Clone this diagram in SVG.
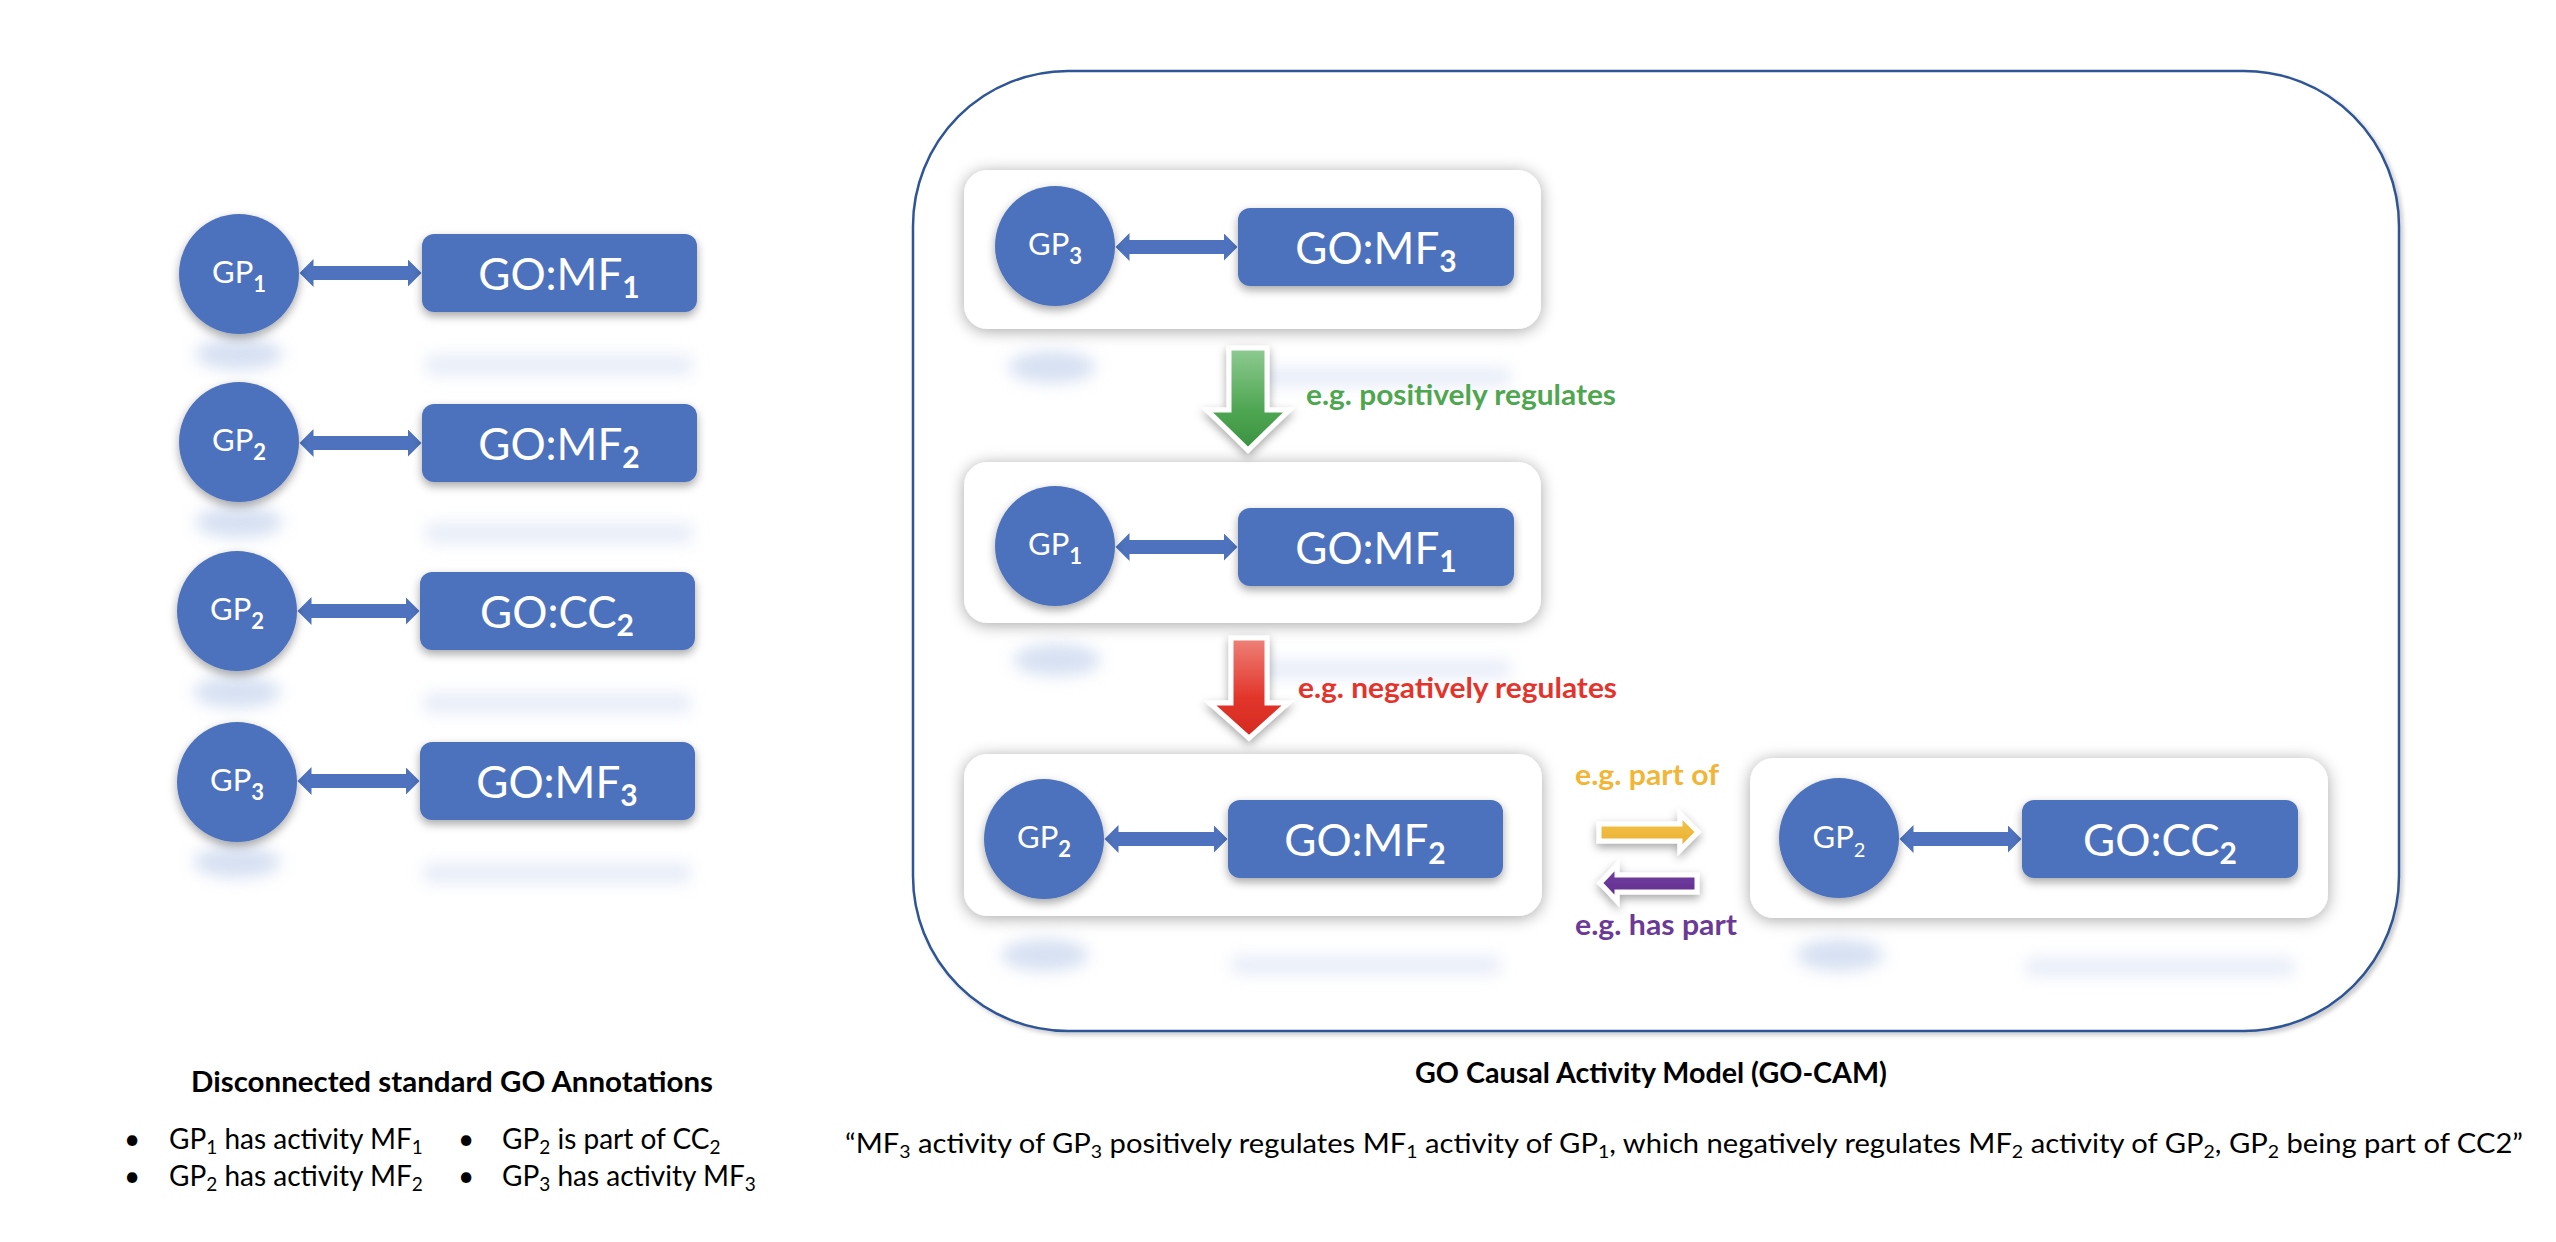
<svg xmlns="http://www.w3.org/2000/svg" width="2556" height="1242" viewBox="0 0 2556 1242">
<style>
  .gp{font-family:Lato,"Liberation Sans",sans-serif;font-size:31px;fill:#fff;text-anchor:middle}
  .gsb{font-size:22px;font-weight:bold}
  .gsr{font-size:20px}
  .go{font-family:Lato,"Liberation Sans",sans-serif;font-size:44px;fill:#fff;text-anchor:middle}
  .osb{font-size:30px;font-weight:bold}
  .node{fill:#4E72BD;filter:url(#sh)}
  .box{fill:#fff;filter:url(#boxsh)}
  .lab{font-family:Lato,"Liberation Sans",sans-serif;font-size:28px;font-weight:bold}
  .cap{font-family:Lato,"Liberation Sans",sans-serif;fill:#000}
  .refc{fill:#AFC2E6;opacity:.5;filter:url(#blur)}
  .refr{fill:#D3DDF1;opacity:.55;filter:url(#blur)}
  .dbl{stroke:#4E72BD;stroke-width:14;marker-start:url(#ah);marker-end:url(#ah)}
  .blk{stroke:#fff;stroke-width:5;stroke-linejoin:miter;filter:url(#sh)}
</style>
<defs>
  <filter id="sh" x="-30%" y="-30%" width="160%" height="170%">
    <feDropShadow dx="0" dy="4" stdDeviation="5" flood-color="#000" flood-opacity="0.35"/>
  </filter>
  <filter id="boxsh" x="-10%" y="-20%" width="120%" height="150%">
    <feDropShadow dx="0" dy="2" stdDeviation="8" flood-color="#000" flood-opacity="0.35"/>
  </filter>
  <filter id="outsh" x="-5%" y="-5%" width="110%" height="110%">
    <feDropShadow dx="3" dy="3" stdDeviation="2" flood-color="#000" flood-opacity="0.2"/>
  </filter>
  <filter id="blur" x="-50%" y="-100%" width="200%" height="300%">
    <feGaussianBlur stdDeviation="8"/>
  </filter>
  <marker id="ah" markerUnits="userSpaceOnUse" markerWidth="16" markerHeight="30" viewBox="0 -15 16 30" refX="0.5" refY="0" orient="auto-start-reverse">
    <path d="M0,-14 L14,0 L0,14 Z" fill="#4E72BD"/>
  </marker>
  <linearGradient id="gG" x1="0" y1="0" x2="0" y2="1">
    <stop offset="0" stop-color="#8FCB92"/><stop offset="0.6" stop-color="#4FA653"/><stop offset="1" stop-color="#3B9140"/>
  </linearGradient>
  <linearGradient id="gR" x1="0" y1="0" x2="0" y2="1">
    <stop offset="0" stop-color="#EE8279"/><stop offset="0.6" stop-color="#E2352B"/><stop offset="1" stop-color="#D42A20"/>
  </linearGradient>
  <linearGradient id="gY" x1="0" y1="0" x2="0" y2="1">
    <stop offset="0" stop-color="#F5C54E"/><stop offset="1" stop-color="#E8AE2E"/>
  </linearGradient>
  <linearGradient id="gP" x1="0" y1="0" x2="0" y2="1">
    <stop offset="0" stop-color="#7440A3"/><stop offset="1" stop-color="#5E2E8C"/>
  </linearGradient>
</defs>
<rect width="2556" height="1242" fill="#fff"/>

<!-- GO-CAM container -->
<g id="gocam-frame">
  <rect x="913" y="71" width="1486" height="960" rx="155" ry="155" fill="#fff" stroke="#2F5496" stroke-width="2.5" filter="url(#outsh)"/>
</g>

<!-- reflections -->
<g id="reflections">
  <ellipse class="refc" cx="239" cy="354" rx="44" ry="16"/><rect class="refr" x="426" y="355" width="266" height="20"/>
  <ellipse class="refc" cx="239" cy="522" rx="44" ry="16"/><rect class="refr" x="426" y="523" width="266" height="20"/>
  <ellipse class="refc" cx="237" cy="692" rx="44" ry="16"/><rect class="refr" x="424" y="693" width="266" height="20"/>
  <ellipse class="refc" cx="237" cy="862" rx="44" ry="16"/><rect class="refr" x="424" y="863" width="266" height="20"/>
  <ellipse class="refc" cx="1052" cy="367" rx="44" ry="16"/><rect class="refr" x="1242" y="368" width="268" height="18"/>
  <ellipse class="refc" cx="1057" cy="660" rx="44" ry="16"/><rect class="refr" x="1242" y="660" width="268" height="18"/>
  <ellipse class="refc" cx="1045" cy="955" rx="44" ry="16"/><rect class="refr" x="1232" y="956" width="268" height="18"/>
  <ellipse class="refc" cx="1840" cy="955" rx="44" ry="16"/><rect class="refr" x="2026" y="958" width="268" height="18"/>
</g>

<!-- white activity boxes -->
<g id="box-a"><rect class="box" x="964" y="170" width="577" height="159" rx="24"/></g>
<g id="box-b"><rect class="box" x="964" y="462" width="577" height="161" rx="24"/></g>
<g id="box-c"><rect class="box" x="964" y="754" width="578" height="162" rx="24"/></g>
<g id="box-d"><rect class="box" x="1750" y="758" width="578" height="160" rx="24"/></g>

<!-- connectors -->
<g id="connectors">
  <line class="dbl" x1="313" y1="273" x2="408" y2="273"/>
  <line class="dbl" x1="313" y1="443" x2="408" y2="443"/>
  <line class="dbl" x1="311" y1="611" x2="406" y2="611"/>
  <line class="dbl" x1="311" y1="781" x2="406" y2="781"/>
  <line class="dbl" x1="1129" y1="247" x2="1224" y2="247"/>
  <line class="dbl" x1="1129" y1="547" x2="1224" y2="547"/>
  <line class="dbl" x1="1118" y1="839" x2="1214" y2="839"/>
  <line class="dbl" x1="1913" y1="839" x2="2008" y2="839"/>
  <path class="blk" fill="url(#gG)" d="M1229,348 H1267 V410 H1289 L1248,450 L1207,410 H1229 Z"/>
  <path class="blk" fill="url(#gR)" d="M1231,638 H1267 V703 H1288 L1249,738 L1210,703 H1231 Z"/>
  <path class="blk" fill="url(#gY)" d="M1599,824 H1680 V814 L1698,832 L1680,850 V841 H1599 Z"/>
  <path class="blk" fill="url(#gP)" d="M1600,883 L1617,865 V875 H1697 V892 H1617 V901 Z"/>
  <text class="lab" x="1306" y="405" fill="#4EA64F" textLength="310" lengthAdjust="spacingAndGlyphs">e.g. positively regulates</text>
  <text class="lab" x="1298" y="698" fill="#E5322B" textLength="319" lengthAdjust="spacingAndGlyphs">e.g. negatively regulates</text>
  <text class="lab" x="1575" y="785" fill="#F2B535" textLength="144" lengthAdjust="spacingAndGlyphs">e.g. part of</text>
  <text class="lab" x="1575" y="935" fill="#6B3A96" textLength="162" lengthAdjust="spacingAndGlyphs">e.g. has part</text>
</g>

<!-- left column nodes -->
<g id="l-gp1"><circle class="node" cx="239" cy="274" r="60"/><text class="gp" x="239" y="283">GP<tspan class="gsb" dy="9">1</tspan></text></g>
<g id="l-mf1"><rect class="node" x="422" y="234" width="275" height="78" rx="12"/><text class="go" x="559" y="290">GO:MF<tspan class="osb" dy="8">1</tspan></text></g>
<g id="l-gp2a"><circle class="node" cx="239" cy="442" r="60"/><text class="gp" x="239" y="451">GP<tspan class="gsb" dy="9">2</tspan></text></g>
<g id="l-mf2"><rect class="node" x="422" y="404" width="275" height="78" rx="12"/><text class="go" x="559" y="460">GO:MF<tspan class="osb" dy="8">2</tspan></text></g>
<g id="l-gp2b"><circle class="node" cx="237" cy="611" r="60"/><text class="gp" x="237" y="620">GP<tspan class="gsb" dy="9">2</tspan></text></g>
<g id="l-cc2"><rect class="node" x="420" y="572" width="275" height="78" rx="12"/><text class="go" x="557" y="628">GO:CC<tspan class="osb" dy="8">2</tspan></text></g>
<g id="l-gp3"><circle class="node" cx="237" cy="782" r="60"/><text class="gp" x="237" y="791">GP<tspan class="gsb" dy="9">3</tspan></text></g>
<g id="l-mf3"><rect class="node" x="420" y="742" width="275" height="78" rx="12"/><text class="go" x="557" y="798">GO:MF<tspan class="osb" dy="8">3</tspan></text></g>

<!-- GO-CAM nodes -->
<g id="c-gp3"><circle class="node" cx="1055" cy="246" r="60"/><text class="gp" x="1055" y="255">GP<tspan class="gsb" dy="9">3</tspan></text></g>
<g id="c-mf3"><rect class="node" x="1238" y="208" width="276" height="78" rx="12"/><text class="go" x="1376" y="264">GO:MF<tspan class="osb" dy="8">3</tspan></text></g>
<g id="c-gp1"><circle class="node" cx="1055" cy="546" r="60"/><text class="gp" x="1055" y="555">GP<tspan class="gsb" dy="9">1</tspan></text></g>
<g id="c-mf1"><rect class="node" x="1238" y="508" width="276" height="78" rx="12"/><text class="go" x="1376" y="564">GO:MF<tspan class="osb" dy="8">1</tspan></text></g>
<g id="c-gp2a"><circle class="node" cx="1044" cy="839" r="60"/><text class="gp" x="1044" y="848">GP<tspan class="gsb" dy="9">2</tspan></text></g>
<g id="c-mf2"><rect class="node" x="1228" y="800" width="275" height="78" rx="12"/><text class="go" x="1365" y="856">GO:MF<tspan class="osb" dy="8">2</tspan></text></g>
<g id="c-gp2b"><circle class="node" cx="1839" cy="838" r="60"/><text class="gp" x="1839" y="848">GP<tspan class="gsr" dy="9">2</tspan></text></g>
<g id="c-cc2"><rect class="node" x="2022" y="800" width="276" height="78" rx="12"/><text class="go" x="2160" y="856">GO:CC<tspan class="osb" dy="8">2</tspan></text></g>

<!-- captions -->
<g id="caption-left" class="cap">
  <text x="191" y="1092" font-size="28" font-weight="bold" textLength="522" lengthAdjust="spacingAndGlyphs">Disconnected standard GO Annotations</text>
  <g font-size="28">
    <text x="124" y="1149">•</text>
    <text x="124" y="1186">•</text>
    <text x="458" y="1149">•</text>
    <text x="458" y="1186">•</text>
    <text x="169" y="1149">GP<tspan font-size="19" dy="5">1</tspan><tspan dy="-5"> has activity MF</tspan><tspan font-size="19" dy="5">1</tspan></text>
    <text x="169" y="1186">GP<tspan font-size="19" dy="5">2</tspan><tspan dy="-5"> has activity MF</tspan><tspan font-size="19" dy="5">2</tspan></text>
    <text x="502" y="1149">GP<tspan font-size="19" dy="5">2</tspan><tspan dy="-5"> is part of CC</tspan><tspan font-size="19" dy="5">2</tspan></text>
    <text x="502" y="1186">GP<tspan font-size="19" dy="5">3</tspan><tspan dy="-5"> has activity MF</tspan><tspan font-size="19" dy="5">3</tspan></text>
  </g>
</g>
<g id="caption-right" class="cap">
  <text x="1651" y="1083" font-size="28" font-weight="bold" text-anchor="middle" textLength="472" lengthAdjust="spacingAndGlyphs">GO Causal Activity Model (GO-CAM)</text>
  <text x="845" y="1153" font-size="27" textLength="1678" lengthAdjust="spacingAndGlyphs">“MF<tspan font-size="18" dy="5">3</tspan><tspan dy="-5"> activity of GP</tspan><tspan font-size="18" dy="5">3</tspan><tspan dy="-5"> positively regulates MF</tspan><tspan font-size="18" dy="5">1</tspan><tspan dy="-5"> activity of GP</tspan><tspan font-size="18" dy="5">1</tspan><tspan dy="-5">, which negatively regulates MF</tspan><tspan font-size="18" dy="5">2</tspan><tspan dy="-5"> activity of GP</tspan><tspan font-size="18" dy="5">2</tspan><tspan dy="-5">, GP</tspan><tspan font-size="18" dy="5">2</tspan><tspan dy="-5"> being part of CC2”</tspan></text>
</g>
</svg>
